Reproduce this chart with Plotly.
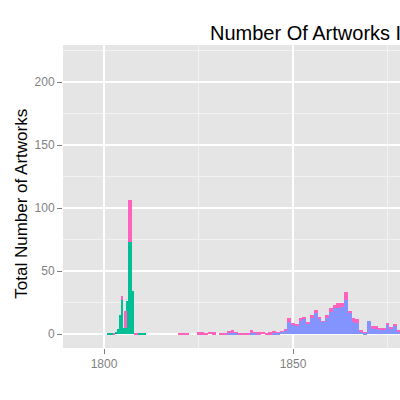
import plotly.graph_objects as go

# Early cluster (half-year bins)
early_years = [1801.25, 1801.75, 1802.25, 1802.75, 1803.25, 1803.75, 1804.25, 1804.75,
               1805.25, 1805.75, 1806.25, 1806.75, 1807.25, 1807.75, 1808.25, 1808.75,
               1809.25, 1809.75, 1810.25, 1810.75]
early_green = [1, 1, 1, 0, 2, 4, 15, 27, 5, 5, 26, 73, 73, 34, 0, 0, 1, 1, 1, 1]
early_pink = [0, 0, 0, 1, 0, 0, 0, 3, 0, 13, 0, 33, 33, 0, 1.2, 1.2, 0, 0, 0, 0]

# Yearly counts 1820-1878
years = list(range(1820, 1879))
blue = [0, 0, 0, 0, 0, 0, 0, 0, 0, 0,          # 1820-1829
        0, 0, 0, 1, 1, 1, 0, 0, 0, 1,          # 1830-1839
        1, 0, 0, 0, 0, 1, 1, 1.6, 3, 9.8,      # 1840-1849
        7.5, 7, 10.5, 11.6, 8.5, 12.4, 16.4, 11.6, 9.8, 12.4,  # 1850-1859
        17.7, 20.4, 20.4, 21.7, 27, 17, 9.8, 8.5, 1.9, 1.3,    # 1860-1869
        10, 3.7, 3.7, 3.7, 3.7, 7.1, 3.7, 6.4, 1.9]            # 1870-1878
pink = [1.2, 1.2, 1.2, 0, 0, 1.5, 1.5, 1.2, 2, 1.5,      # 1820-1829
        0, 1.2, 1.2, 1, 2.5, 0.5, 1, 1.2, 1.2, 2.5,      # 1830-1839
        0.5, 1.5, 2, 1.2, 1.5, 1.5, 0.5, 0.3, 0.5, 2.6,  # 1840-1849
        0.5, 0.5, 2, 1.6, 1.3, 2.6, 2.6, 1.6, 0.5, 2.6,  # 1850-1859
        2.7, 2.6, 3.9, 3.2, 6, 1, 2.6, 3.1, 0.7, 0.3,    # 1860-1869
        0, 2.7, 2.7, 0.8, 0.8, 2, 2.1, 1.5, 0.5]         # 1870-1878

GREEN = "#00BF94"
BLUE = "#8494FF"
PINK = "#FF62BC"

fig = go.Figure()
fig.add_trace(go.Bar(x=early_years, y=early_green, width=0.5, marker=dict(color=GREEN, line=dict(width=0))))
fig.add_trace(go.Bar(x=years, y=blue, width=1, marker=dict(color=BLUE, line=dict(width=0))))
fig.add_trace(go.Bar(x=early_years, y=early_pink, width=0.5, marker=dict(color=PINK, line=dict(width=0))))
fig.add_trace(go.Bar(x=years, y=pink, width=1, marker=dict(color=PINK, line=dict(width=0))))

W, H = 400, 400
font = "Liberation Sans, Arial, sans-serif"
fig.update_layout(
    width=W, height=H,
    barmode="stack", bargap=0, showlegend=False,
    paper_bgcolor="white", plot_bgcolor="#E5E5E5",
    margin=dict(l=63, r=0, t=45, b=52),
    font=dict(family=font),
    title=dict(text="Number Of Artworks In Each Year", font=dict(size=20, color="black", family=font),
               xref="container", x=210/W, xanchor="left",
               yref="container", y=1-33/H, yanchor="middle"),
    xaxis=dict(range=[1789.15, 1878.3], tickvals=[1800, 1850], ticktext=["1800", "1850"],
               showgrid=True, gridcolor="white", gridwidth=1.6,
               minor=dict(tickvals=[1825, 1875], showgrid=True, gridcolor="#F2F2F2", gridwidth=1, ticks=""),
               ticks="outside", ticklen=5, tickcolor="#7F7F7F", tickwidth=1,
               tickfont=dict(size=12, color="#7F7F7F"), zeroline=False, showline=False),
    yaxis=dict(range=[-11.1, 229.4], tickvals=[0, 50, 100, 150, 200],
               showgrid=True, gridcolor="white", gridwidth=1.6,
               minor=dict(tickvals=[25, 75, 125, 175, 225], showgrid=True, gridcolor="#F2F2F2", gridwidth=1, ticks=""),
               ticks="outside", ticklen=5, tickcolor="#7F7F7F", tickwidth=1,
               tickfont=dict(size=12, color="#7F7F7F"), zeroline=False, showline=False),
    annotations=[dict(text="Total Number of Artworks", textangle=-90, showarrow=False,
                      xref="paper", yref="paper", x=(20.7-63)/337, y=(348-204)/303,
                      xanchor="center", yanchor="middle",
                      font=dict(size=17, color="black", family=font))],
)

fig.write_html("out.html", config={"displayModeBar": False},
               post_script="document.body.style.margin='0';")
